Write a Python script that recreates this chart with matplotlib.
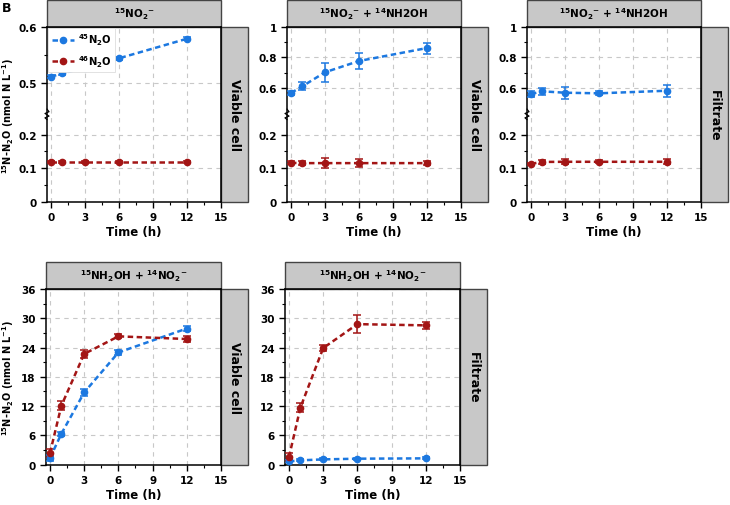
import numpy as np
import matplotlib
matplotlib.use('Agg')
import matplotlib.pyplot as plt
from matplotlib.patches import Rectangle
from matplotlib.ticker import FixedLocator, FixedFormatter, MultipleLocator

plt.rcParams['font.family'] = ['DejaVu Sans']
plt.rcParams['font.weight'] = 'bold'
plt.rcParams['mathtext.fontset'] = 'custom'
plt.rcParams['mathtext.rm'] = 'DejaVu Sans:bold'
plt.rcParams['mathtext.bf'] = 'DejaVu Sans:bold'
plt.rcParams['mathtext.default'] = 'bf'

# sampling times (h)
time = [0, 1, 3, 6, 12]

# panel titles / side labels
titles = [r'$^{15}$NO$_2$$^{-}$',
          r'$^{15}$NO$_2$$^{-}$ + $^{14}$NH2OH',
          r'$^{15}$NO$_2$$^{-}$ + $^{14}$NH2OH',
          r'$^{15}$NH$_2$OH + $^{14}$NO$_2$$^{-}$',
          r'$^{15}$NH$_2$OH + $^{14}$NO$_2$$^{-}$']
sides = ['Viable cell', 'Viable cell', 'Filtrate', 'Viable cell', 'Filtrate']

# 45N2O (blue) and 46N2O (red), mean and error
n45_p1 = [0.511, 0.517, 0.527, 0.544, 0.579]
n45_p1_err = [0.003, 0.003, 0.003, 0.003, 0.003]
n46_p1 = [0.118, 0.118, 0.118, 0.118, 0.118]
n46_p1_err = [0.002, 0.002, 0.002, 0.002, 0.002]

n45_p2 = [0.567, 0.611, 0.703, 0.777, 0.862]
n45_p2_err = [0.01, 0.025, 0.061, 0.055, 0.036]
n46_p2 = [0.116, 0.115, 0.115, 0.115, 0.115]
n46_p2_err = [0.004, 0.005, 0.0145, 0.0125, 0.005]

n45_p3 = [0.561, 0.578, 0.569, 0.565, 0.582]
n45_p3_err = [0.018, 0.022, 0.04, 0.013, 0.039]
n46_p3 = [0.113, 0.1185, 0.119, 0.119, 0.119]
n46_p3_err = [0.003, 0.006, 0.007, 0.004, 0.007]

n45_p4 = [1.37, 6.35, 14.8, 23.0, 27.9]
n45_p4_err = [0.6, 0.4, 0.8, 0.6, 0.6]
n46_p4 = [2.39, 12.1, 22.7, 26.3, 25.75]
n46_p4_err = [0.8, 0.9, 0.9, 0.4, 0.6]

n45_p5 = [0.68, 0.89, 1.09, 1.23, 1.3]
n45_p5_err = [0.2, 0.2, 0.2, 0.2, 0.2]
n46_p5 = [1.57, 11.7, 23.9, 28.8, 28.55]
n46_p5_err = [0.8, 0.9, 0.6, 1.84, 0.7]

blue = '#1C78E0'
red = '#A31515'
strip_c = '#C8C8C8'

fig = plt.figure(figsize=(7.3, 5.06), dpi=100)

W, H = 730.0, 506.0


def make_ax(left, top, width, height):
    return fig.add_axes([left / W, (H - top - height) / H, width / W, height / H])


def broken_scale(ax, top):  # 断轴: 0-0.25 和 0.45-top
    yd = [0, 0.25, 0.45, top]
    yf = [0, 0.48, 0.52, 1.0]
    ax.set_yscale('function', functions=(lambda y: np.interp(y, yd, yf),
                                         lambda f: np.interp(f, yf, yd)))
    ax.set_ylim(0, top)
    # break mark on the left spine
    zx = [0, -0.012, 0.012, -0.012, 0.012, 0]
    zy = [0.47, 0.48, 0.49, 0.505, 0.515, 0.53]
    ax.plot(zx, zy, transform=ax.transAxes, color='k', lw=0.8, clip_on=False, zorder=5)


def style(ax, title, side):
    ax.set_xlim(-0.35, 15)
    ax.xaxis.set_major_locator(MultipleLocator(3))
    ax.xaxis.set_minor_locator(MultipleLocator(1.5))
    ax.grid(True, which='major', color='#C8C8C8', ls=(0, (4, 4)), lw=0.8)
    ax.set_axisbelow(True)
    for s in ax.spines.values():
        s.set_linewidth(1.1)
    ax.tick_params(which='major', direction='out', length=4, width=1.0, labelsize=7.5)
    ax.tick_params(which='minor', direction='out', length=2.5, width=0.8)
    ax.set_xlabel('Time (h)', fontsize=8.5, fontweight='bold', labelpad=2)
    ax.add_patch(Rectangle((0, 1), 1, 0.155, transform=ax.transAxes, facecolor=strip_c,
                           edgecolor='#444444', lw=1.0, clip_on=False))
    ax.text(0.5, 1.0775, title, transform=ax.transAxes, ha='center', va='center',
            fontsize=7.5, fontweight='bold')
    ax.add_patch(Rectangle((1, 0), 0.155, 1, transform=ax.transAxes, facecolor=strip_c,
                           edgecolor='#444444', lw=1.0, clip_on=False))
    ax.text(1.0775, 0.5, side, transform=ax.transAxes, ha='center', va='center',
            rotation=270, fontsize=9, fontweight='bold')


def draw(ax, y45, e45, y46, e46):
    kw = dict(marker='o', ms=4.5, ls=(0, (2.2, 1.4)), lw=1.8, capsize=3,
              elinewidth=1.1, capthick=1.1, zorder=3)
    c1 = ax.errorbar(time, y45, yerr=e45, color=blue, **kw)
    c2 = ax.errorbar(time, y46, yerr=e46, color=red, **kw)
    return c1, c2


ylab = r'$^{15}$N-N$_2$O (nmol N L$^{-1}$)'

# top row
top_boxes = [(47, 28), (287, 28), (527, 28)]
top_data = [(n45_p1, n45_p1_err, n46_p1, n46_p1_err, 0.6),
            (n45_p2, n45_p2_err, n46_p2, n46_p2_err, 1.0),
            (n45_p3, n45_p3_err, n46_p3, n46_p3_err, 1.0)]
for i in range(3):
    ax = make_ax(top_boxes[i][0], top_boxes[i][1], 174, 174.7)
    y45, e45, y46, e46, top = top_data[i]
    broken_scale(ax, top)
    c1, c2 = draw(ax, y45, e45, y46, e46)
    if top < 0.7:
        ticks = [0, 0.1, 0.2, 0.5, 0.6]
        labels = ['0', '0.1', '0.2', '0.5', '0.6']
        minors = [0.05, 0.15, 0.55]
    else:
        ticks = [0, 0.1, 0.2, 0.6, 0.8, 1.0]
        labels = ['0', '0.1', '0.2', '0.6', '0.8', '1']
        minors = [0.05, 0.15, 0.7, 0.9]
    ax.yaxis.set_major_locator(FixedLocator(ticks))
    ax.yaxis.set_major_formatter(FixedFormatter(labels))
    ax.yaxis.set_minor_locator(FixedLocator(minors))
    style(ax, titles[i], sides[i])
    if i == 0:
        ax.set_ylabel(ylab, fontsize=7, fontweight='bold', va='center')
        ax.yaxis.set_label_coords(-0.222, 0.5)
        leg = ax.legend([c1[0], c2[0]], [r'$^{45}$N$_2$O', r'$^{46}$N$_2$O'],
                        loc='upper left', fontsize=7.2, frameon=True, fancybox=False,
                        edgecolor='#DDDDDD', framealpha=1, borderaxespad=0.1,
                        handlelength=2.2, handletextpad=0.4, labelspacing=0.6,
                        borderpad=0.35)
        leg.get_frame().set_linewidth(0.6)

# bottom row
bot_boxes = [(46, 290), (285, 290)]
bot_data = [(n45_p4, n45_p4_err, n46_p4, n46_p4_err),
            (n45_p5, n45_p5_err, n46_p5, n46_p5_err)]
for i in range(2):
    ax = make_ax(bot_boxes[i][0], bot_boxes[i][1], 175, 175.7)
    y45, e45, y46, e46 = bot_data[i]
    draw(ax, y45, e45, y46, e46)
    ax.set_ylim(0, 36)
    ax.yaxis.set_major_locator(MultipleLocator(6))
    ax.yaxis.set_minor_locator(MultipleLocator(3))
    style(ax, titles[3 + i], sides[3 + i])
    if i == 0:
        ax.set_ylabel(ylab, fontsize=7, fontweight='bold', va='center')
        ax.yaxis.set_label_coords(-0.217, 0.5)

fig.text(0.003, 0.997, 'B', fontsize=9, fontweight='bold', ha='left', va='top')

fig.savefig('out.png', dpi=100)
